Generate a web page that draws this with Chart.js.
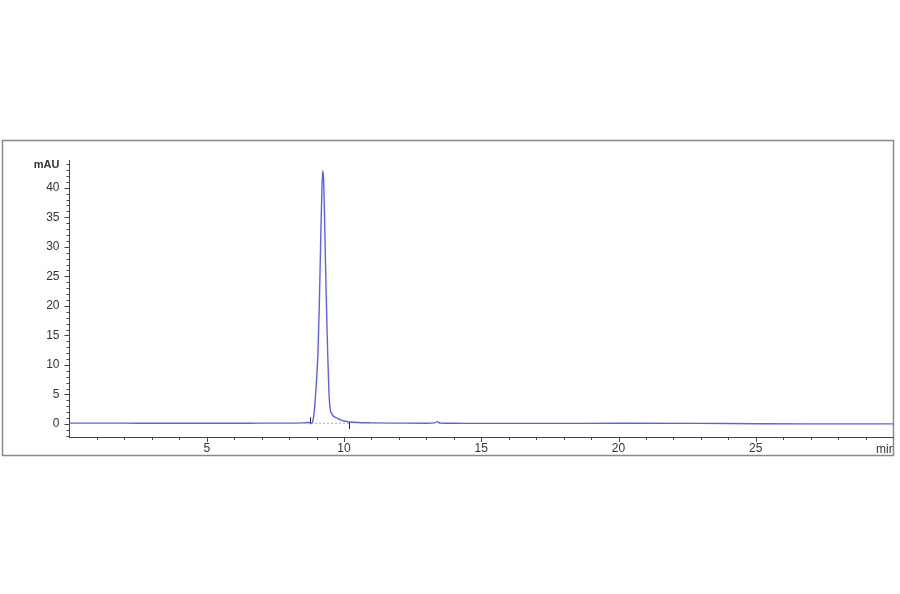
<!DOCTYPE html>
<html>
<head>
<meta charset="utf-8">
<script src="https://cdn.jsdelivr.net/npm/chart.js@4.4.0/dist/chart.umd.min.js"></script>
<style>
  html, body { margin: 0; padding: 0; background: #fff; }
  canvas { display: block; }
</style>
</head>
<body>
<canvas id="chrom" width="900" height="594"></canvas>
<script>
// retention time (min) and absorbance (mAU)
var times = [0, 1, 2, 3, 4, 5, 6, 7, 8, 8.5, 8.7, 8.75, 8.8, 8.85, 8.9, 8.95, 9.0, 9.05, 9.1, 9.15, 9.2, 9.23, 9.26, 9.3, 9.35, 9.4, 9.45, 9.5, 9.55, 9.6, 9.7, 9.8, 9.9, 10.0, 10.2, 10.5, 11, 12, 13, 13.3, 13.4, 13.5, 14, 15, 17, 20, 23, 25, 27, 30];
var mAU   = [0.15, 0.15, 0.15, 0.12, 0.12, 0.12, 0.12, 0.15, 0.15, 0.2, 0.25, 0.2, 0.12, 0.3, 1.5, 4, 7.5, 12, 20, 31, 40.5, 42.9, 41, 33, 22, 13, 5.5, 2.4, 1.8, 1.4, 1.1, 0.85, 0.65, 0.5, 0.35, 0.25, 0.2, 0.15, 0.12, 0.2, 0.4, 0.15, 0.12, 0.1, 0.1, 0.12, 0.1, 0.05, 0.02, 0.02];
// integration baseline and start/end markers
var baseTimes = [8.8, 10.2];
var baseVals  = [0.12, 0.12];
var markTimes = [8.78, 10.2];
var markVals  = [0.55, -0.25];
var xTickLabels = [5, 10, 15, 20, 25];
var yTickLabels = [0, 5, 10, 15, 20, 25, 30, 35, 40];

var lineColor = 'rgb(95, 95, 238)';
var textColor = '#333';
var fontFamily = '"Liberation Sans", Arial, sans-serif';

function pts(xs, ys) {
    return xs.map(function (x, i) { return { x: x, y: ys[i] }; });
}

// frame, minor/major ticks and unit labels
var decor = {
    id: 'decor',
    beforeDraw: function (chart) {
        var c = chart.ctx;
        c.save();
        c.fillStyle = '#fff';
        c.fillRect(0, 0, chart.width, chart.height);
        c.strokeStyle = '#8a8a8a';
        c.lineWidth = 1.5;
        c.strokeRect(2.5, 140.5, 891, 315);
        c.restore();
    },
    afterDraw: function (chart) {
        var c = chart.ctx;
        var xs = chart.scales.x, ys = chart.scales.y;
        var a = chart.chartArea;
        c.save();
        c.strokeStyle = '#444';
        c.lineWidth = 1;
        c.beginPath();
        for (var v = 1; v < 30; v++) {
            var px = Math.round(xs.getPixelForValue(v)) + 0.5;
            var len = v % 5 === 0 ? 5 : 3;
            c.moveTo(px, a.bottom);
            c.lineTo(px, a.bottom + len);
        }
        for (var w = -2; w <= 44; w++) {
            var py = Math.round(ys.getPixelForValue(w)) + 0.5;
            var l2 = w % 5 === 0 ? 5 : 3;
            c.moveTo(a.left - l2, py);
            c.lineTo(a.left, py);
        }
        c.stroke();

        c.fillStyle = textColor;
        c.font = 'bold 11px ' + fontFamily;
        c.textAlign = 'right';
        c.textBaseline = 'middle';
        c.fillText('mAU', a.left - 10, 165);

        c.beginPath();
        c.rect(0, 0, 893, chart.height);
        c.clip();
        c.font = '12px ' + fontFamily;
        c.textAlign = 'left';
        c.fillText('min', 876, 450);
        c.restore();
    }
};

new Chart(document.getElementById('chrom'), {
    type: 'line',
    data: {
        datasets: [{
            label: 'DAD',
            data: pts(times, mAU),
            borderColor: lineColor,
            borderWidth: 1.4,
            pointRadius: 0,
            cubicInterpolationMode: 'monotone',
            fill: false
        }, {
            label: 'baseline',
            data: pts(baseTimes, baseVals),
            borderColor: '#aaa',
            borderWidth: 1,
            borderDash: [2, 2],
            pointRadius: 0,
            fill: false
        }, {
            label: 'marks',
            data: pts(markTimes, markVals),
            showLine: false,
            pointStyle: 'line',
            rotation: 90,
            pointRadius: 3.5,
            borderColor: '#222',
            borderWidth: 1
        }]
    },
    options: {
        responsive: false,
        animation: false,
        devicePixelRatio: 1,
        layout: {
            padding: { left: 0, top: 160, right: 7, bottom: 137 }
        },
        plugins: {
            legend: { display: false },
            tooltip: { enabled: false }
        },
        scales: {
            x: {
                type: 'linear',
                min: 0,
                max: 30,
                afterFit: function (s) { s.height = 20; },
                grid: { display: false, drawTicks: false, tickLength: 0 },
                border: { display: true, color: '#444', width: 1 },
                ticks: {
                    stepSize: 5,
                    padding: 4,
                    color: textColor,
                    font: { family: fontFamily, size: 12 },
                    callback: function (v) { return xTickLabels.indexOf(v) >= 0 ? v : ''; },
                    maxRotation: 0
                }
            },
            y: {
                min: -2.2,
                max: 44.7,
                afterFit: function (s) { s.width = 69.5; },
                grid: { display: false, drawTicks: false, tickLength: 0 },
                border: { display: true, color: '#444', width: 1 },
                ticks: {
                    stepSize: 5,
                    includeBounds: false,
                    padding: 10,
                    color: textColor,
                    font: { family: fontFamily, size: 12 },
                    callback: function (v) { return yTickLabels.indexOf(v) >= 0 ? v : ''; }
                }
            }
        }
    },
    plugins: [decor]
});
</script>
</body>
</html>
